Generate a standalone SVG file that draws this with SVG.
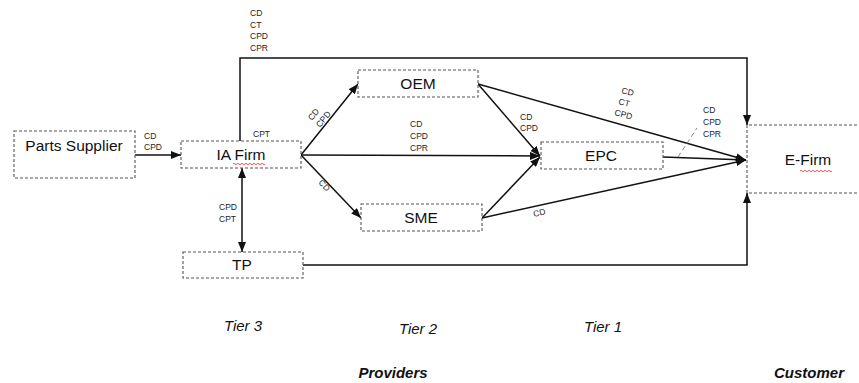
<svg xmlns="http://www.w3.org/2000/svg" width="859" height="383" viewBox="0 0 859 383">
  <style>
    .box { fill: #fff; stroke: #555; stroke-width: 1.1; stroke-dasharray: 3 2; }
    .name { font-family: "Liberation Sans", Arial, sans-serif; font-size: 15.5px; fill: #111; text-anchor: middle; }
    .lbl { font-family: "Liberation Sans", Arial, sans-serif; font-size: 8.5px; fill: #222; }
    .edge { fill: none; stroke: #111; stroke-width: 1.5; }
    .lead { fill: none; stroke: #888; stroke-width: 1; stroke-dasharray: 5 3; }
    .tier { font-family: "Liberation Sans", Arial, sans-serif; font-size: 15px; font-style: italic; fill: #111; text-anchor: middle; }
    .group { font-family: "Liberation Sans", Arial, sans-serif; font-size: 15px; font-style: italic; font-weight: bold; fill: #111; text-anchor: middle; }
    .spell { fill: none; stroke: #e03030; stroke-width: 0.8; }
  </style>
  <defs>
    <marker id="arrow" viewBox="0 0 10 8" refX="10" refY="4" markerWidth="10" markerHeight="8" markerUnits="userSpaceOnUse" orient="auto-start-reverse">
      <path d="M0,0 L10,4 L0,8 Z" fill="#111"/>
    </marker>
  </defs>

  <rect width="859" height="383" fill="#fff"/>

  <!-- connectors -->
  <g id="connectors">
    <line class="edge" x1="135" y1="155" x2="181" y2="155" marker-end="url(#arrow)"/>
    <polyline class="edge" points="240,141 240,58 747,58 747,125" marker-end="url(#arrow)"/>
    <line class="edge" x1="301" y1="155" x2="358" y2="84" marker-end="url(#arrow)"/>
    <line class="edge" x1="301" y1="155" x2="540" y2="156" marker-end="url(#arrow)"/>
    <line class="edge" x1="301" y1="155" x2="361" y2="218" marker-end="url(#arrow)"/>
    <line class="edge" x1="478" y1="84" x2="540" y2="156" marker-end="url(#arrow)"/>
    <line class="edge" x1="482" y1="218" x2="540" y2="157" marker-end="url(#arrow)"/>
    <line class="edge" x1="478" y1="84" x2="746" y2="160" marker-end="url(#arrow)"/>
    <line class="edge" x1="663" y1="157" x2="746" y2="160" marker-end="url(#arrow)"/>
    <line class="edge" x1="482" y1="218" x2="746" y2="160" marker-end="url(#arrow)"/>
    <polyline class="edge" points="303,265 747,265 747,193" marker-end="url(#arrow)"/>
    <line class="edge" x1="242" y1="168" x2="242" y2="252" marker-start="url(#arrow)" marker-end="url(#arrow)"/>
    <line class="lead" x1="678" y1="157" x2="697" y2="128"/>

    <!-- edge labels -->
    <text class="lbl" x="144" y="139">CD</text>
    <text class="lbl" x="144" y="150">CPD</text>
    <text class="lbl" x="250" y="16">CD</text>
    <text class="lbl" x="250" y="28">CT</text>
    <text class="lbl" x="250" y="39">CPD</text>
    <text class="lbl" x="250" y="51">CPR</text>
    <text class="lbl" x="253" y="137">CPT</text>
    <text class="lbl" transform="translate(312,121) rotate(-51)">CD</text>
    <text class="lbl" transform="translate(320,128) rotate(-51)">CPD</text>
    <text class="lbl" x="410" y="127">CD</text>
    <text class="lbl" x="410" y="139">CPD</text>
    <text class="lbl" x="410" y="151">CPR</text>
    <text class="lbl" transform="translate(318,183) rotate(46)">CD</text>
    <text class="lbl" x="520" y="120">CD</text>
    <text class="lbl" x="520" y="131">CPD</text>
    <text class="lbl" transform="translate(621,93) rotate(15)">CD</text>
    <text class="lbl" transform="translate(618,104) rotate(15)">CT</text>
    <text class="lbl" transform="translate(614,115) rotate(15)">CPD</text>
    <text class="lbl" x="703" y="113">CD</text>
    <text class="lbl" x="703" y="125">CPD</text>
    <text class="lbl" x="703" y="137">CPR</text>
    <text class="lbl" transform="translate(534,217) rotate(-13)">CD</text>
    <text class="lbl" x="219" y="210">CPD</text>
    <text class="lbl" x="219" y="222">CPT</text>
  </g>

  <!-- nodes -->
  <g id="parts-supplier">
    <rect class="box" x="14" y="131" width="121" height="47"/>
    <text class="name" x="74" y="151">Parts Supplier</text>
  </g>
  <g id="ia-firm">
    <rect class="box" x="181" y="141" width="120" height="27"/>
    <text class="name" x="241" y="160">IA Firm</text>
    <path class="spell" d="M233,164 q1,-1.5 2,0 t2,0 t2,0 t2,0 t2,0 t2,0 t2,0 t2,0 t2,0 t2,0 t2,0 t2,0 t2,0 t2,0 t2,0 t2,0"/>
  </g>
  <g id="oem">
    <rect class="box" x="358" y="70" width="120" height="27"/>
    <text class="name" x="418" y="89">OEM</text>
  </g>
  <g id="sme">
    <rect class="box" x="361" y="204" width="121" height="27"/>
    <text class="name" x="421" y="223">SME</text>
  </g>
  <g id="epc">
    <rect class="box" x="541" y="142" width="122" height="27"/>
    <text class="name" x="601" y="161">EPC</text>
  </g>
  <g id="tp">
    <rect class="box" x="183" y="252" width="120" height="26"/>
    <text class="name" x="242" y="270">TP</text>
  </g>
  <g id="e-firm">
    <path class="box" d="M862,125 L747,125 L747,193 L862,193" fill="#fff"/>
    <text class="name" x="808" y="165">E-Firm</text>
    <path class="spell" d="M800,171 q1,-1.5 2,0 t2,0 t2,0 t2,0 t2,0 t2,0 t2,0 t2,0 t2,0 t2,0 t2,0 t2,0 t2,0 t2,0 t2,0 t2,0"/>
  </g>

  <!-- tier and group captions -->
  <text class="tier" x="243" y="331">Tier 3</text>
  <text class="tier" x="418" y="334">Tier 2</text>
  <text class="tier" x="603" y="332">Tier 1</text>
  <text class="group" x="393" y="378">Providers</text>
  <text class="group" x="809" y="378">Customer</text>
</svg>
